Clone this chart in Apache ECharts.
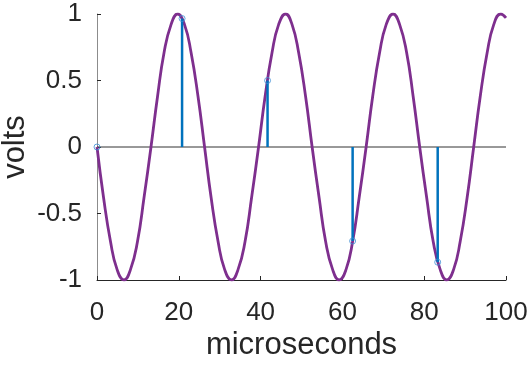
<!DOCTYPE html>
<html><head><meta charset="utf-8">
<script src="https://cdn.jsdelivr.net/npm/echarts@6/dist/echarts.min.js"></script>
<style>html,body{margin:0;padding:0;background:#fff}#c{width:532px;height:368px}</style>
</head><body><div id="c"></div>
<script>
// continuous signal (microseconds, volts)
var curveT = [0,1.6,3.3,4.9,6.6,8.2,9.9,11.5,13.2,14.8,16.4,18.1,19.7,21.4,23.0,24.7,26.3,27.9,29.6,31.2,32.9,34.5,36.2,37.8,39.5,41.1,42.8,44.4,46.1,47.7,49.3,51.0,52.6,54.3,55.9,57.6,59.2,60.9,62.5,64.1,65.8,67.4,69.1,70.7,72.4,74.0,75.7,77.3,78.9,80.6,82.2,83.9,85.5,87.2,88.8,90.5,92.1,93.7,95.4,97.0,98.7,100];
var curveV = [0,-0.38,-0.71,-0.92,-1,-0.92,-0.71,-0.38,0,0.38,0.71,0.92,1,0.92,0.71,0.38,0,-0.38,-0.71,-0.92,-1,-0.92,-0.71,-0.38,0,0.38,0.71,0.92,1,0.92,0.71,0.38,0,-0.38,-0.71,-0.92,-1,-0.92,-0.71,-0.38,0,0.38,0.71,0.92,1,0.92,0.71,0.38,0,-0.38,-0.71,-0.92,-1,-0.92,-0.71,-0.38,0,0.38,0.71,0.92,1,0.97];
// samples (stems)
var sampleT = [0,20.8,41.7,62.5,83.3];
var sampleV = [0,0.966,0.5,-0.707,-0.866];
var xTicks = [0,20,40,60,80,100];
var yTicks = [-1,-0.5,0,0.5,1];

var curve = curveT.map(function(t,i){return [t,curveV[i]];});
var samples = sampleT.map(function(t,i){return [t,sampleV[i]];});
var font = '"Liberation Sans", Arial, sans-serif';
var chart = echarts.init(document.getElementById('c'), null, {renderer:'canvas'});
chart.setOption({
  animation:false,
  backgroundColor:'#fff',
  grid:{left:97,right:26,top:14,bottom:88,containLabel:false,outerBoundsMode:'none'},
  xAxis:{type:'value',min:0,max:100,interval:20,
    name:'microseconds',nameLocation:'middle',nameGap:50,nameMoveOverlap:false,
    nameTextStyle:{fontSize:31,color:'#262626',fontFamily:font},
    axisLine:{onZero:false,lineStyle:{color:'#262626',width:1}},
    axisTick:{inside:true,length:4,lineStyle:{color:'#262626'}},
    axisLabel:{fontSize:26,color:'#262626',fontFamily:font,margin:20},
    splitLine:{show:false}},
  yAxis:{type:'value',min:-1,max:1,interval:0.5,
    name:'volts',nameLocation:'middle',nameGap:66,nameMoveOverlap:false,
    nameTextStyle:{fontSize:31,color:'#262626',fontFamily:font},
    axisLine:{show:true,onZero:false,lineStyle:{color:'#8c8c8c',width:1}},
    axisTick:{show:true,inside:true,length:4,lineStyle:{color:'#262626'}},
    axisLabel:{fontSize:26,color:'#262626',fontFamily:font,margin:15},
    splitLine:{show:false}},
  series:[
    {type:'line',data:[[0,0],[100,0]],symbol:'none',silent:true,
      lineStyle:{color:'#333333',width:1},z:1},
    {type:'line',data:curve,smooth:true,symbol:'none',
      lineStyle:{color:'#7E2F8E',width:2.8},z:2},
    {type:'custom',data:samples,z:3,
      renderItem:function(params,api){
        var p0=api.coord([api.value(0),0]);
        var p1=api.coord([api.value(0),api.value(1)]);
        return {type:'line',shape:{x1:p0[0],y1:p0[1],x2:p1[0],y2:p1[1]},
          style:{stroke:'#0072BD',lineWidth:2.5}};
      }},
    {type:'scatter',data:samples,symbol:'circle',symbolSize:6,z:4,
      itemStyle:{color:'rgba(0,0,0,0)',borderColor:'#3d8fd6',borderWidth:1}}
  ]
});
</script></body></html>
